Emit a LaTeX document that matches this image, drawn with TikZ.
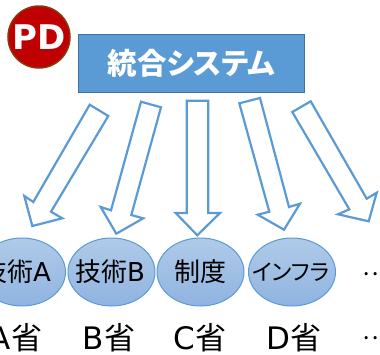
\documentclass[tikz,border=0pt]{standalone}
\usepackage{fontspec}
\setmainfont[RawFeature=+palt]{Noto Sans CJK JP}
\newfontfamily\lat{DejaVu Sans}
\usetikzlibrary{shapes.geometric}
\definecolor{arrowblue}{HTML}{5B9BD5}
\definecolor{boxfill}{HTML}{5B9BD5}
\definecolor{boxedge}{HTML}{41719C}
\definecolor{pdred}{HTML}{C00000}
\definecolor{pdedge}{HTML}{843C0C}
\definecolor{elltop}{HTML}{B1CBE9}
\definecolor{ellbot}{HTML}{8FB3E0}
\tikzset{
  x=1pt,y=-1pt,
  fat/.style={draw=arrowblue,line width=2.2pt,fill=white,line join=miter},
  org/.style={ellipse,draw=arrowblue,line width=1pt,top color=elltop,bottom color=ellbot,minimum width=87pt,minimum height=68pt,inner sep=0pt},
  orgtext/.style={inner sep=0pt,text=black,font=\fontsize{26}{28}\selectfont},
  ministry/.style={inner sep=0pt,text=black,font=\fontsize{31}{33}\selectfont},
}
\begin{document}
\begin{tikzpicture}
\useasboundingbox (0,0) rectangle (380,354);
\clip (0,0) rectangle (380,354);
\node[draw=boxedge,line width=1.8pt,fill=boxfill,minimum width=226pt,minimum height=58pt,inner sep=0pt,text=white,font=\fontsize{29.5}{31}\selectfont\bfseries] (sys) at (191.5,63.5) {統合システム};
\node[circle,draw=pdedge,line width=1.5pt,fill=pdred,minimum size=62pt,inner sep=0pt,text=white,font=\lat\fontsize{34}{36}\selectfont\bfseries] (pd) at (39,37) {PD};
\draw[fat] (89.7,104.7) -- (108.3,116) -- (51,211.7) -- (62.3,218.3) -- (32.3,226) -- (24.3,196) -- (33.3,202) -- cycle;
\draw[fat] (141,101.7) -- (161,107.3) -- (131.3,215) -- (143.3,218.3) -- (116.3,233.7) -- (100.7,207) -- (111,210.3) -- cycle;
\draw[fat] (186.7,100.7) -- (208.3,100.7) -- (208.3,213) -- (220,213) -- (197.3,235.3) -- (175.7,213) -- (186.7,213) -- cycle;
\draw[fat] (239.3,103.3) -- (260,98) -- (289,207) -- (300,203.7) -- (284,229.7) -- (257.7,214.7) -- (269.3,211.7) -- cycle;
\draw[fat] (292.3,112) -- (310.7,101.3) -- (366.7,198.7) -- (376.7,192.7) -- (368.7,221.3) -- (338,214.3) -- (349.3,209.3) -- cycle;
\node[org] (a) at (22,272) {};
\node[org] (b) at (111.5,272) {};
\node[org] (c) at (200.5,272) {};
\node[org] (d) at (292,272) {};
\node[orgtext] (ta) at (16,272) {技術{\lat A}};
\node[orgtext] (tb) at (110,272) {技術{\lat B}};
\node[orgtext] (tc) at (c) {制度};
\node[orgtext,font=\fontsize{22.5}{24}\selectfont] (td) at (291,272) {インフラ};
\node[inner sep=0pt,text=black,font=\fontsize{24}{26}\selectfont] (e) at (375,274) {…};
\node[ministry] (ma) at (16,338) {{\lat A}省};
\node[ministry] (mb) at (109,338) {{\lat B}省};
\node[ministry] (mc) at (200,338) {{\lat C}省};
\node[ministry] (md) at (294,338) {{\lat D}省};
\node[inner sep=0pt,text=black,font=\fontsize{24}{26}\selectfont] (me) at (375,338) {…};
\end{tikzpicture}
\end{document}
